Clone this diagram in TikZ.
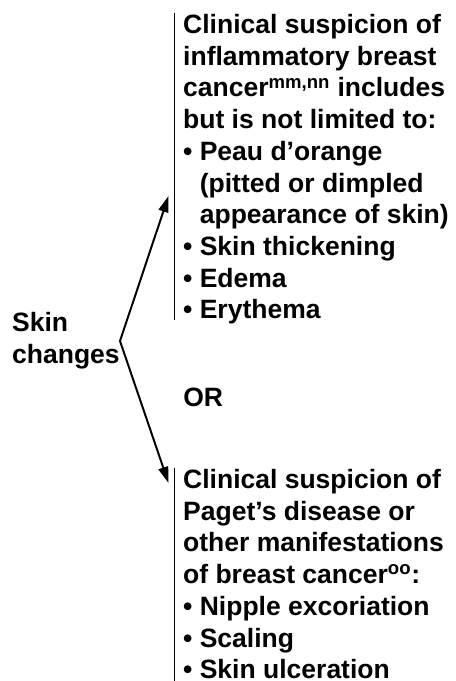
\documentclass[tikz,border=0pt]{standalone}
\usepackage{fontspec}
\setmainfont{Liberation Sans}
\usetikzlibrary{arrows.meta, positioning}

\begin{document}
\begin{tikzpicture}[
  x=0.025cm, y=-0.025cm,
  txt/.style={inner sep=0pt, align=left, font=\fontsize{18.85}{22.55}\selectfont\bfseries},
  blk/.style={txt, anchor=north west, inner xsep=0.21cm, inner ysep=0pt},
  bar/.style={line width=1.4pt},
  arr/.style={-{Triangle[length=11.5pt, width=7pt]}, line width=1.4pt}
]
  \useasboundingbox (0,0) rectangle (455,681);

  \node[txt, anchor=east] (skin) at (120,341) {Skin\\changes};

  \node[blk] (ibc) at (174.5,14) {
    Clinical suspicion of\\
    inflammatory breast\\
    cancer\textsuperscript{mm,nn} includes\\
    but is not limited to:\\
    • Peau d’orange\\
    \phantom{• }(pitted or dimpled\\
    \phantom{• }appearance of skin)\\
    • Skin thickening\\
    • Edema\\
    • Erythema
  };
  \draw[bar] ([yshift=1pt]ibc.north west) -- ([yshift=3pt]ibc.south west);

  \node[txt, anchor=base west] (or) at (183,406) {OR};

  \node[blk] (paget) at (174.5,469) {
    Clinical suspicion of\\
    Paget’s disease or\\
    other manifestations\\
    of breast cancer\textsuperscript{oo}:\\
    • Nipple excoriation\\
    • Scaling\\
    • Skin ulceration
  };
  \draw[bar] ([yshift=1pt]paget.north west) -- ([yshift=-6pt]paget.south west);

  \draw[arr] (skin.east) -- ([shift={(-6,182)}]ibc.north west);
  \draw[arr] (skin.east) -- ([shift={(-6,14)}]paget.north west);
\end{tikzpicture}
\end{document}
